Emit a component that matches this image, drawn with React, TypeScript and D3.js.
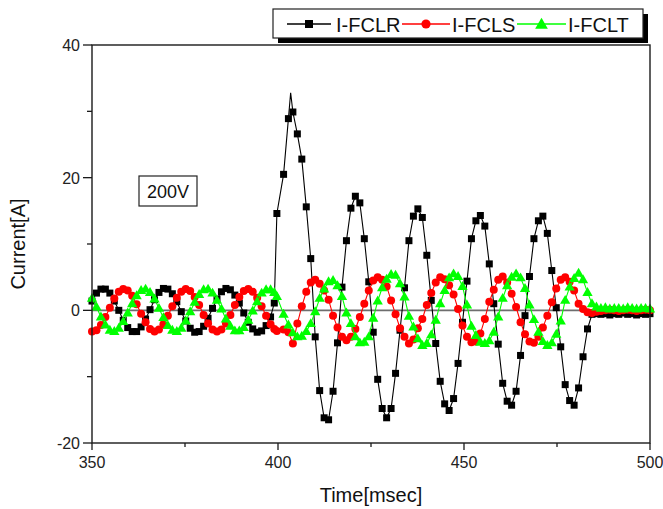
import React from "react";
import * as d3 from "d3";

// Sample times (ms), shared by the three phase currents
const TIME = [
  350.0, 351.2, 352.4, 353.6, 354.8, 356.0, 357.2, 358.4, 359.6, 360.8,
  362.0, 363.2, 364.4, 365.6, 366.8, 368.0, 369.2, 370.4, 371.6, 372.8,
  374.0, 375.2, 376.4, 377.6, 378.8, 380.0, 381.2, 382.4, 383.6, 384.8,
  386.0, 387.2, 388.4, 389.6, 390.8, 392.0, 393.2, 394.4, 395.6, 396.8,
  398.0, 399.0, 399.7, 401.5,
  402.8, 404.0, 405.2, 406.4, 407.6, 408.8, 410.0, 411.2, 412.4, 413.6,
  414.8, 416.0, 417.2, 418.4, 419.6, 420.8, 422.0, 423.2, 424.4, 425.6,
  426.8, 428.0, 429.2, 430.4, 431.6, 432.8, 434.0, 435.2, 436.4, 437.6,
  438.8, 440.0, 441.2, 442.4, 443.6, 444.8, 446.0, 447.2, 448.4, 449.6,
  450.8, 452.0, 453.2, 454.4, 455.6, 456.8, 458.0, 459.2, 460.4, 461.6,
  462.8, 464.0, 465.2, 466.4, 467.6, 468.8, 470.0, 471.2, 472.4, 473.6,
  474.8, 476.0, 477.2, 478.4, 479.6, 480.8, 482.0, 483.2, 484.4, 485.6,
  486.8, 488.0, 489.2, 490.4, 491.6, 492.8, 494.0, 495.2, 496.4, 497.6,
  498.8, 500.0,
];

// I-FCLR (A)
const I_FCLR = [
  1.4, 2.6, 3.2, 3.2, 2.6, 1.4, 0.0, -1.5, -2.6, -3.2,
  -3.2, -2.5, -1.3, 0.1, 1.6, 2.7, 3.3, 3.2, 2.5, 1.3,
  -0.2, -1.6, -2.7, -3.3, -3.2, -2.4, -1.2, 0.3, 1.7, 2.8,
  3.3, 3.1, 2.3, 1.1, -0.4, -1.8, -2.8, -3.3, -3.1, -2.3,
  -1.0, 1.1, 14.6, 20.5,
  28.9, 29.9, 26.6, 22.8, 15.6, 7.8, -4.0, -12.1, -16.2, -16.5,
  -12.2, -4.9, 3.5, 10.5, 15.4, 17.2, 16.2, 10.8, 4.3, -3.3,
  -10.4, -14.8, -16.2, -14.8, -9.5, -3.0, 3.4, 10.5, 14.2, 15.3,
  14.0, 8.3, 1.5, -5.0, -10.7, -14.1, -15.1, -13.3, -8.0, -1.8,
  4.4, 10.8, 13.5, 14.3, 12.7, 7.0, 1.0, -5.1, -11.0, -13.7,
  -14.3, -12.2, -6.8, -0.8, 5.1, 10.8, 13.5, 14.2, 11.6, 6.0,
  0.4, -5.5, -11.2, -13.6, -14.3, -11.7, -7.0, -2.8, -0.6, -0.5,
  -0.6, -0.5, -0.7, -0.5, -0.6, -0.4, -0.6, -0.5, -0.7, -0.5,
  -0.6, -0.5,
];

// Extra I-FCLR line vertices drawn without a marker (first peak)
const I_FCLR_PEAK_TIME = [403.4];
const I_FCLR_PEAK_VALUE = [32.8];

// I-FCLS (A)
const I_FCLS = [
  -3.2, -3.0, -2.2, -1.0, 0.4, 1.8, 2.8, 3.2, 3.0, 2.2,
  0.9, -0.5, -1.8, -2.8, -3.2, -2.9, -2.1, -0.8, 0.6, 1.9,
  2.8, 3.2, 2.9, 2.0, 0.8, -0.7, -2.0, -2.9, -3.2, -2.9,
  -2.0, -0.7, 0.8, 2.0, 2.9, 3.2, 2.8, 1.9, 0.6, -0.8,
  -2.1, -2.8, -3.1, -2.9,
  -3.3, -5.0, -2.0, 0.6, 2.8, 4.2, 4.6, 4.0, 3.0, 1.6,
  -0.8, -2.6, -4.0, -4.5, -4.0, -2.8, -1.0, 1.0, 3.0, 4.5,
  5.0, 4.6, 3.6, 1.5, -0.6, -2.7, -4.0, -5.0, -4.4, -2.7,
  -1.3, 0.8, 2.6, 4.2, 5.0, 4.7, 3.8, 2.4, 0.2, -2.3,
  -4.0, -4.8, -4.7, -3.5, -1.3, 1.3, 3.1, 4.6, 5.1, 4.2,
  2.5, 0.5, -1.8, -3.6, -4.7, -4.9, -4.0, -2.6, -0.8, 1.2,
  3.3, 4.6, 5.0, 4.3, 3.0, 1.0, 0.2, -0.3, -0.4, -0.2,
  -0.1, 0.0, 0.1, 0.0, -0.1, 0.0, 0.1, 0.0, -0.1, 0.0,
  0.1, 0.0,
];

// I-FCLT (A)
const I_FCLT = [
  1.8, 0.5, -1.0, -2.2, -3.0, -3.2, -2.7, -1.7, -0.4, 1.0,
  2.2, 3.0, 3.2, 2.7, 1.7, 0.3, -1.1, -2.3, -3.0, -3.2,
  -2.7, -1.6, -0.2, 1.2, 2.4, 3.1, 3.2, 2.6, 1.5, 0.2,
  -1.3, -2.4, -3.1, -3.1, -2.6, -1.5, -0.1, 1.3, 2.6, 3.1,
  3.1, 2.7, 2.1, -0.6,
  -2.2, -3.4, -4.0, -3.9, -3.2, -2.0, -0.2, 1.8, 3.2, 4.3,
  4.5, 3.7, 2.1, -0.4, -2.0, -4.0, -4.9, -4.8, -4.0, -1.2,
  1.4, 3.4, 4.7, 5.4, 5.3, 4.0, 2.0, -0.9, -2.5, -4.3,
  -5.3, -5.0, -3.7, -1.5, 1.0, 3.0, 4.9, 5.5, 5.1, 3.6,
  0.8, -2.4, -3.8, -4.8, -5.0, -4.6, -3.3, -1.0, 1.8, 3.7,
  5.0, 5.5, 4.9, 3.3, 0.8, -1.4, -3.3, -4.7, -5.3, -4.9,
  -3.6, -1.6, 1.5, 3.5, 4.8, 5.6, 4.6, 2.7, 1.0, 0.5,
  0.3, 0.4, 0.2, 0.3, 0.3, 0.2, 0.4, 0.3, 0.2, 0.3,
  0.3, 0.2,
];

const X_TICKS = [350, 400, 450, 500];
const X_MINOR = [375, 425, 475];
const Y_TICKS = [-20, 0, 20, 40];
const Y_MINOR = [-10, 10, 30];

const SERIES_NAMES = ["I-FCLR", "I-FCLS", "I-FCLT"];
const SERIES_COLORS = ["#000000", "#ff0000", "#00ff00"];

const W = 663;
const H = 509;
const M = { left: 92, right: 650, top: 45, bottom: 443 };
const FONT = "'Liberation Sans', Arial, sans-serif";

export default function App() {
  const x = d3.scaleLinear().domain([350, 500]).range([M.left, M.right]);
  const y = d3.scaleLinear().domain([-20, 40]).range([M.bottom, M.top]);

  const line = d3
    .line<[number, number]>()
    .x((d) => x(d[0]))
    .y((d) => y(d[1]));

  const pts = (vals: number[]) => TIME.map((t, i) => [t, vals[i]] as [number, number]);

  const rPts = pts(I_FCLR);
  const rLinePts = rPts
    .concat(I_FCLR_PEAK_TIME.map((t, i) => [t, I_FCLR_PEAK_VALUE[i]] as [number, number]))
    .sort((a, b) => a[0] - b[0]);
  const sPts = pts(I_FCLS);
  const tPts = pts(I_FCLT);

  const sq = d3.symbol().type(d3.symbolSquare).size(49)()!;
  const tri = d3.symbol().type(d3.symbolTriangle).size(46)()!;
  const sqL = d3.symbol().type(d3.symbolSquare).size(64)()!;
  const triL = d3.symbol().type(d3.symbolTriangle).size(70)()!;

  const legendItems = [
    { lx1: 287, lx2: 331, tx: 336, mk: "sq" },
    { lx1: 402, lx2: 450, tx: 452, mk: "ci" },
    { lx1: 517, lx2: 566, tx: 568, mk: "tr" },
  ];
  const ly = 24;

  return (
    <svg
      width={W}
      height={H}
      style={{ position: "absolute", left: 0, top: 0, background: "#fff" }}
      fontFamily={FONT}
    >
      <rect x={0} y={0} width={W} height={H} fill="#fff" />

      {/* zero reference */}
      <line x1={M.left} x2={M.right} y1={y(0)} y2={y(0)} stroke="#6e6e6e" strokeWidth={1.6} />

      {/* I-FCLR */}
      <path d={line(rLinePts)!} fill="none" stroke={SERIES_COLORS[0]} strokeWidth={1.1} />
      {rPts.map((d, i) => (
        <path key={"r" + i} d={sq} transform={`translate(${x(d[0])},${y(d[1])})`} fill={SERIES_COLORS[0]} />
      ))}

      {/* I-FCLS */}
      <path d={line(sPts)!} fill="none" stroke={SERIES_COLORS[1]} strokeWidth={1.1} />
      {sPts.map((d, i) => (
        <circle key={"s" + i} cx={x(d[0])} cy={y(d[1])} r={4} fill={SERIES_COLORS[1]} />
      ))}

      {/* I-FCLT */}
      <path d={line(tPts)!} fill="none" stroke={SERIES_COLORS[2]} strokeWidth={1.1} />
      {tPts.map((d, i) => (
        <path key={"t" + i} d={tri} transform={`translate(${x(d[0])},${y(d[1]) + 0.5})`} fill={SERIES_COLORS[2]} />
      ))}

      {/* frame */}
      <rect
        x={M.left}
        y={M.top}
        width={M.right - M.left}
        height={M.bottom - M.top}
        fill="none"
        stroke="#1a1a1a"
        strokeWidth={1.4}
      />

      {/* x axis ticks */}
      {X_TICKS.map((t) => (
        <g key={"xt" + t}>
          <line x1={x(t)} x2={x(t)} y1={M.bottom} y2={M.bottom + 7} stroke="#1a1a1a" strokeWidth={1.3} />
          <text x={x(t)} y={M.bottom + 25} fontSize={16} textAnchor="middle" fill="#222">
            {t}
          </text>
        </g>
      ))}
      {X_MINOR.map((t) => (
        <line key={"xm" + t} x1={x(t)} x2={x(t)} y1={M.bottom} y2={M.bottom + 4} stroke="#1a1a1a" strokeWidth={1.3} />
      ))}

      {/* y axis ticks */}
      {Y_TICKS.map((v) => (
        <g key={"yt" + v}>
          <line x1={M.left - 9} x2={M.left} y1={y(v)} y2={y(v)} stroke="#1a1a1a" strokeWidth={1.3} />
          <text x={M.left - 12} y={y(v) + 6} fontSize={16} textAnchor="end" fill="#222">
            {v}
          </text>
        </g>
      ))}
      {Y_MINOR.map((v) => (
        <line key={"ym" + v} x1={M.left - 5} x2={M.left} y1={y(v)} y2={y(v)} stroke="#1a1a1a" strokeWidth={1.3} />
      ))}

      {/* axis titles */}
      <text x={371} y={502} fontSize={20} textAnchor="middle" fill="#111">
        Time[msec]
      </text>
      <text
        transform={`translate(25,${(M.top + M.bottom) / 2}) rotate(-90)`}
        fontSize={20}
        textAnchor="middle"
        fill="#111"
      >
        Current[A]
      </text>

      {/* voltage annotation */}
      <rect x={139} y={176} width={58} height={30} fill="#fff" stroke="#222" strokeWidth={1.2} />
      <text x={168} y={198} fontSize={18} textAnchor="middle" fill="#111">
        200V
      </text>

      {/* legend */}
      <rect x={278} y={14} width={370} height={29} fill="#000" />
      <rect x={273} y={9} width={370} height={29} fill="#fff" stroke="#222" strokeWidth={1.2} />
      {legendItems.map((it, i) => (
        <g key={"lg" + i}>
          <line x1={it.lx1} x2={it.lx2} y1={ly} y2={ly} stroke={SERIES_COLORS[i]} strokeWidth={1.3} />
          {it.mk === "sq" && (
            <path d={sqL} transform={`translate(${(it.lx1 + it.lx2) / 2},${ly})`} fill={SERIES_COLORS[i]} />
          )}
          {it.mk === "ci" && <circle cx={(it.lx1 + it.lx2) / 2} cy={ly} r={4.6} fill={SERIES_COLORS[i]} />}
          {it.mk === "tr" && (
            <path d={triL} transform={`translate(${(it.lx1 + it.lx2) / 2},${ly + 1})`} fill={SERIES_COLORS[i]} />
          )}
          <text x={it.tx} y={ly + 7.5} fontSize={20} fill="#111">
            {SERIES_NAMES[i]}
          </text>
        </g>
      ))}
    </svg>
  );
}
